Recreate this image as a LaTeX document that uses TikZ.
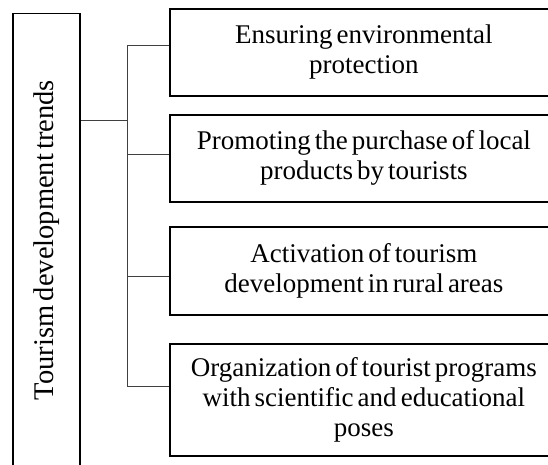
\documentclass[tikz,border=0pt]{standalone}
\usepackage{fontspec}
\setmainfont[WordSpace=0.6]{Liberation Serif}
\begin{document}
\begin{tikzpicture}[x=1pt,y=-1pt,
  box/.style={draw=black, line width=1.8pt, align=center, inner sep=0pt,
    font=\fontsize{27}{30}\selectfont},
  conn/.style={draw=black!75, line width=1pt}]
\useasboundingbox (0,0) rectangle (548,464);
\node[box, minimum width=453pt, minimum height=67pt, rotate=90, font=\fontsize{28.5}{30}\selectfont] (L) at (46.5,240) {Tourism development trends};
\node[box, anchor=north west, minimum width=388pt, minimum height=87pt] (b1) at (169,8) {Ensuring environmental\\protection};
\node[box, anchor=north west, minimum width=388pt, minimum height=87pt] (b2) at (169,114) {Promoting the purchase of local\\products by tourists};
\node[box, anchor=north west, minimum width=388pt, minimum height=88pt] (b3) at (169,226) {Activation of tourism\\development in rural areas};
\node[box, anchor=north west, minimum width=388pt, minimum height=112pt] (b4) at (169,343) {Organization of tourist programs\\with scientific and educational\\poses};
\coordinate (j) at (127,120);
\coordinate (t1) at (127,45);
\coordinate (t2) at (127,154);
\coordinate (t3) at (127,276);
\coordinate (t4) at (127,386);
\draw[conn] (L.south |- j) -- (j);
\draw[conn] (t1) -- (t4);
\draw[conn] (t1) -- (b1.west |- t1);
\draw[conn] (t2) -- (b2.west |- t2);
\draw[conn] (t3) -- (b3.west |- t3);
\draw[conn] (t4) -- (b4.west |- t4);
\end{tikzpicture}
\end{document}
